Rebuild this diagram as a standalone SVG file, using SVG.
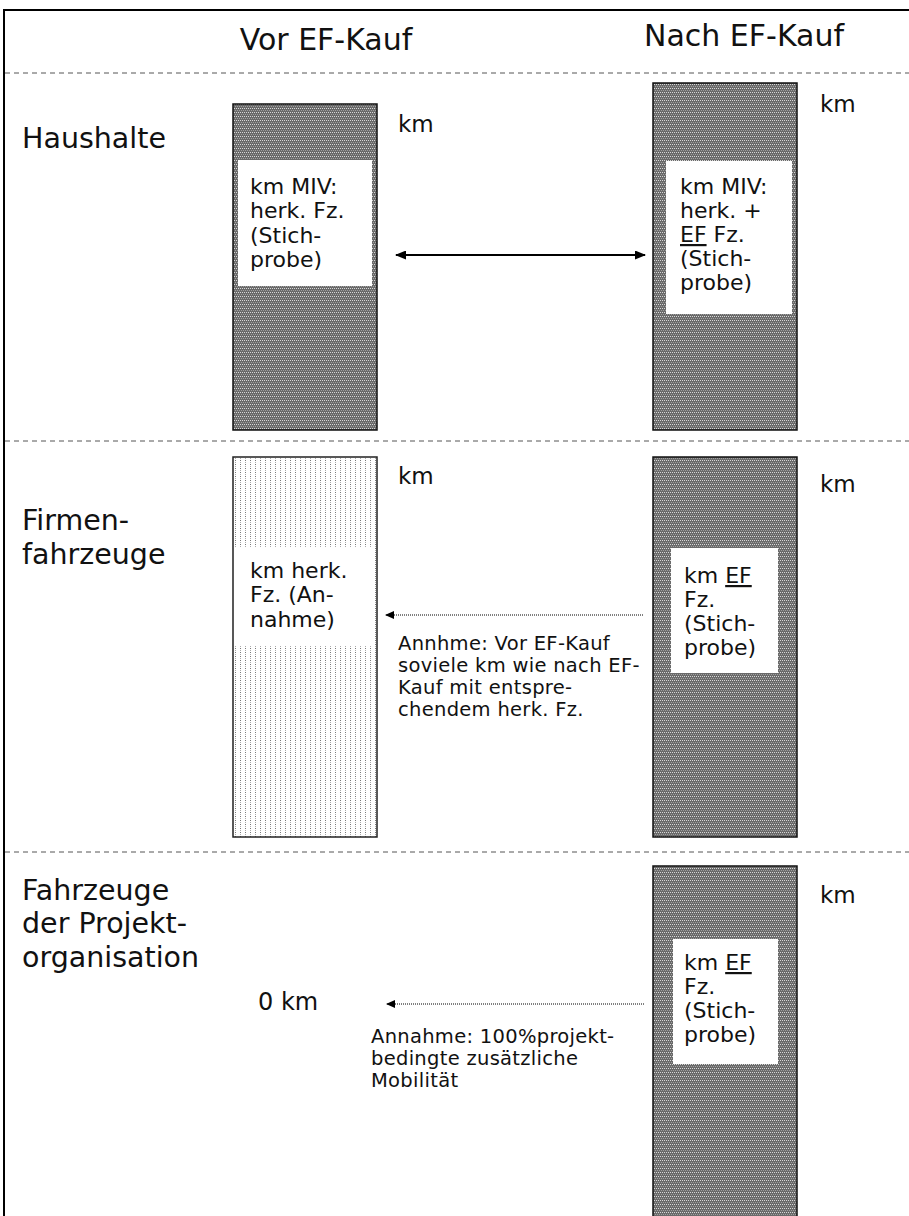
<svg xmlns="http://www.w3.org/2000/svg" width="909" height="1216" viewBox="0 0 909 1216">
<style>
text{font-family:"DejaVu Sans","Liberation Sans",sans-serif;fill:#111}
.title{font-size:30px}
.lab{font-size:28.5px}
.box{font-size:22px}
.km{font-size:23px}
.ann{font-size:19.5px;letter-spacing:0.3px}
.sep{stroke:#555;stroke-width:1;stroke-dasharray:5 4;fill:none}
.hatch{fill:url(#hatch);stroke:#111;stroke-width:1.5}
.stip{fill:url(#stip);stroke:#222;stroke-width:1.5}
.inner{fill:#fff}
.solid{stroke:#000;stroke-width:2;fill:none}
.dot{stroke:#000;stroke-width:1;stroke-dasharray:1 1;fill:none}
.u{text-decoration:underline}
</style>
<defs>
<pattern id="hatch" width="2" height="4" patternUnits="userSpaceOnUse">
<rect width="2" height="4" fill="#6a6a6a"/>
<rect width="1" height="1" fill="#d8d8d8"/>
<rect x="1" y="2" width="1" height="1" fill="#a0a0a0"/>
</pattern>
<pattern id="stip" width="5" height="4" patternUnits="userSpaceOnUse">
<rect width="5" height="4" fill="#fff"/>
<rect width="1" height="1" fill="#777"/>
<rect y="2" width="1" height="1" fill="#aaa"/>
</pattern>
<marker id="ah" markerWidth="11" markerHeight="9" refX="10" refY="4.5" orient="auto-start-reverse" markerUnits="userSpaceOnUse">
<path d="M0,0 L11,4.5 L0,9 Z" fill="#000"/>
</marker>
<marker id="ahs" markerWidth="9" markerHeight="8" refX="8" refY="4" orient="auto" markerUnits="userSpaceOnUse">
<path d="M0,0 L9,4 L0,8 Z" fill="#000"/>
</marker>
</defs>
<rect x="0" y="0" width="909" height="1216" fill="#fff"/>
<rect x="4" y="10" width="920" height="1230" fill="none" stroke="#000" stroke-width="2"/>
<g id="titles">
<text class="title" x="326" y="50" text-anchor="middle">Vor EF-Kauf</text>
<text class="title" x="744" y="46" text-anchor="middle">Nach EF-Kauf</text>
</g>
<g id="separators">
<line class="sep" x1="5" y1="73" x2="909" y2="73"/>
<line class="sep" x1="5" y1="441" x2="909" y2="441"/>
<line class="sep" x1="5" y1="852" x2="909" y2="852"/>
</g>
<g id="label-haushalte"><text class="lab" x="22" y="148">Haushalte</text></g>
<g id="label-firmen"><text class="lab" x="22" y="530">Firmen-</text><text class="lab" x="22" y="564">fahrzeuge</text></g>
<g id="label-projekt"><text class="lab" x="22" y="900">Fahrzeuge</text><text class="lab" x="22" y="933">der Projekt-</text><text class="lab" x="22" y="967">organisation</text></g>
<g id="hh-vor">
<rect class="hatch" x="233" y="104" width="144" height="326"/>
<rect class="inner" x="238" y="160" width="134" height="126"/>
<text class="box" x="250" y="194">km MIV:</text>
<text class="box" x="250" y="218">herk. Fz.</text>
<text class="box" x="250" y="243">(Stich-</text>
<text class="box" x="250" y="267">probe)</text>
<text class="km" x="398" y="132">km</text>
</g>
<g id="hh-nach">
<rect class="hatch" x="653" y="83" width="144" height="347"/>
<rect class="inner" x="666" y="161" width="126" height="153"/>
<text class="box" x="680" y="194">km MIV:</text>
<text class="box" x="680" y="218">herk. +</text>
<text class="box" x="680" y="242"><tspan class="u">EF</tspan> Fz.</text>
<text class="box" x="680" y="266">(Stich-</text>
<text class="box" x="680" y="290">probe)</text>
<text class="km" x="820" y="112">km</text>
</g>
<g id="fz-vor">
<rect class="stip" x="233" y="457" width="144" height="380"/>
<rect class="inner" x="235" y="547" width="140" height="99"/>
<text class="box" x="250" y="578">km herk.</text>
<text class="box" x="250" y="602">Fz. (An-</text>
<text class="box" x="250" y="627">nahme)</text>
<text class="km" x="398" y="484">km</text>
</g>
<g id="fz-nach">
<rect class="hatch" x="653" y="457" width="144" height="380"/>
<rect class="inner" x="671" y="548" width="107" height="125"/>
<text class="box" x="684" y="583">km <tspan class="u">EF</tspan></text>
<text class="box" x="684" y="607">Fz.</text>
<text class="box" x="684" y="631">(Stich-</text>
<text class="box" x="684" y="655">probe)</text>
<text class="km" x="820" y="492">km</text>
</g>
<g id="fz-ann">
<text class="ann" x="398" y="650">Annhme: Vor EF-Kauf</text>
<text class="ann" x="398" y="672">soviele km wie nach EF-</text>
<text class="ann" x="398" y="694">Kauf mit entspre-</text>
<text class="ann" x="398" y="716">chendem herk. Fz.</text>
</g>
<g id="po-vor">
<text class="km" x="258" y="1010" style="font-size:24px">0 km</text>
</g>
<g id="po-nach">
<rect class="hatch" x="653" y="866" width="144" height="380"/>
<rect class="inner" x="673" y="939" width="105" height="125"/>
<text class="box" x="684" y="970">km <tspan class="u">EF</tspan></text>
<text class="box" x="684" y="994">Fz.</text>
<text class="box" x="684" y="1018">(Stich-</text>
<text class="box" x="684" y="1042">probe)</text>
<text class="km" x="820" y="903">km</text>
</g>
<g id="po-ann">
<text class="ann" x="371" y="1043">Annahme: 100%projekt-</text>
<text class="ann" x="371" y="1065">bedingte zusätzliche</text>
<text class="ann" x="371" y="1087">Mobilität</text>
</g>
<g id="connectors">
<line class="solid" x1="396" y1="255" x2="645" y2="255" marker-start="url(#ah)" marker-end="url(#ah)"/>
<line class="dot" x1="643" y1="615" x2="386" y2="615" marker-end="url(#ahs)"/>
<line class="dot" x1="644" y1="1004" x2="387" y2="1004" marker-end="url(#ahs)"/>
</g>
</svg>
